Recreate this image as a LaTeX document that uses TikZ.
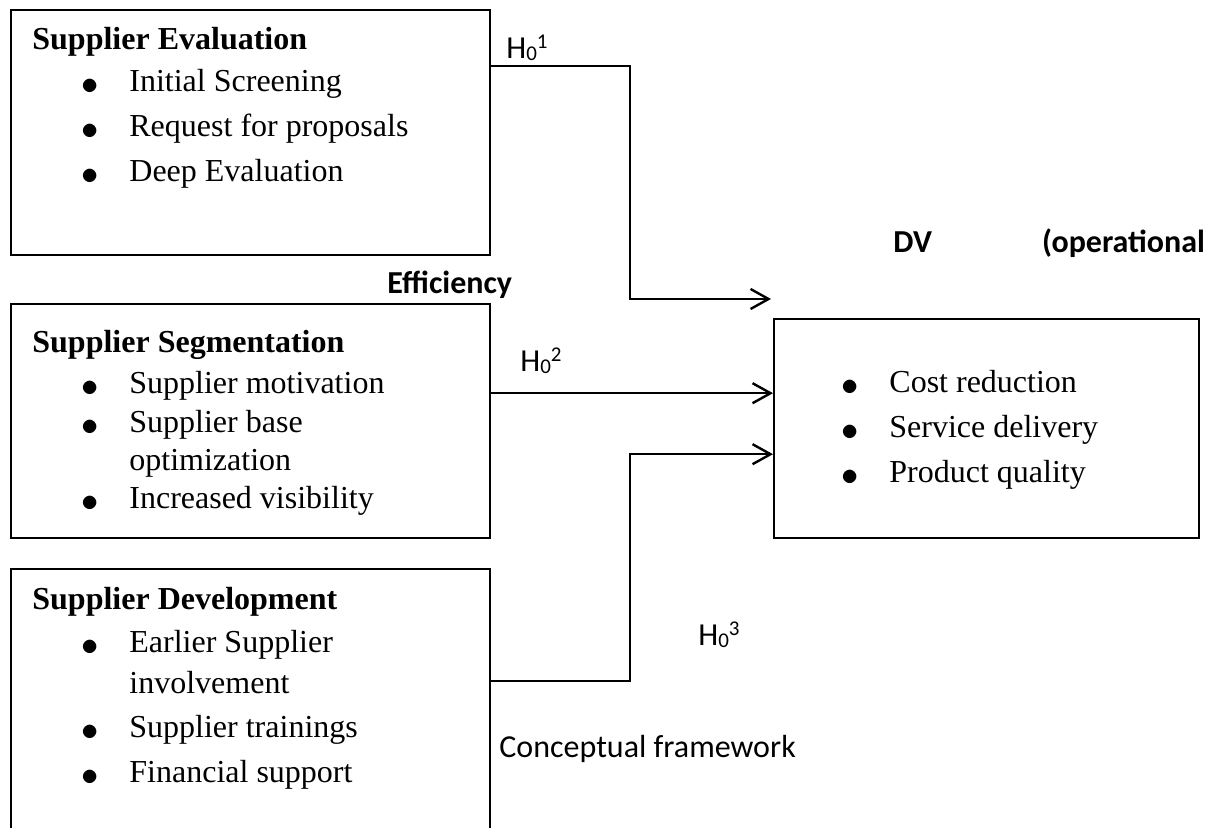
\documentclass[tikz,border=0pt]{standalone}
\usepackage{fontspec}
\setmainfont{Liberation Serif}
\newfontfamily\calibri{Carlito}
\usetikzlibrary{arrows.meta}
\newcommand{\hyp}[1]{H\raisebox{-1pt}{\fontsize{10.5}{12}\selectfont 0}\raisebox{5pt}{\fontsize{10.5}{12}\selectfont #1}}

\begin{document}
\begin{tikzpicture}
[x=0.5pt,y=-0.5pt,
box/.style={rectangle,draw=black,line width=1.2pt,anchor=north west,inner sep=0pt,minimum width=239.5pt},
txt/.style={anchor=base west,inner sep=0pt,font=\fontsize{16}{19}\selectfont},
head/.style={txt,font=\fontsize{16}{19}\selectfont\bfseries},
item/.style={txt,execute at begin node={\makebox[24pt][l]{\raisebox{-1.5pt}{$\bullet$}}}},
lab/.style={anchor=base west,inner sep=0pt,font=\fontsize{16}{19}\selectfont\calibri},
link/.style={line width=1.2pt,-{Straight Barb[length=9pt,width=10pt,line width=1.2pt]}}]
\path[use as bounding box] (0,0) rectangle (1213,828);
\clip (0,0) rectangle (1213,828);
% independent variables
\node[box,minimum height=122.5pt] (eval) at (10,9) {};
\node[box,minimum height=117pt] (seg) at (10,303) {};
\node[box,minimum height=200pt] (dev) at (10,568) {};
% dependent variable
\node[box,minimum width=212.5pt,minimum height=109.5pt] (dv) at (773,318) {};

\node[head] (evalh) at (32,50) {Supplier Evaluation};
\node[item] (eval1) at (81,92) {Initial Screening};
\node[item] (eval2) at (81,137) {Request for proposals};
\node[item] (eval3) at (81,182) {Deep Evaluation};

\node[head] (segh) at (32,352) {Supplier Segmentation};
\node[item] (seg1) at (81,393) {Supplier motivation};
\node[item] (seg2) at (81,432) {Supplier base};
\node[txt] (seg2b) at (129,470) {optimization};
\node[item] (seg3) at (81,508) {Increased visibility};

\node[head] (devh) at (32,609) {Supplier Development};
\node[item] (dev1) at (81,652) {Earlier Supplier};
\node[txt] (dev1b) at (129,693) {involvement};
\node[item] (dev2) at (81,737) {Supplier trainings};
\node[item] (dev3) at (81,782) {Financial support};

\node[item] (dv1) at (841,392) {Cost reduction};
\node[item] (dv2) at (841,437) {Service delivery};
\node[item] (dv3) at (841,482) {Product quality};

% labels
\node[lab] (h1) at (506,59) {\hyp{1}};
\node[lab] (h2) at (520,371) {\hyp{2}};
\node[lab] (h3) at (698,645) {\hyp{3}};
\node[lab,font=\fontsize{16}{19}\selectfont\calibri\bfseries] (dvlab) at (893,253) {DV\hspace{55pt}(operational};
\node[lab,font=\fontsize{16}{19}\selectfont\calibri\bfseries] (efflab) at (387,293) {Efficiency};
\node[lab] (cap) at (499,757) {Conceptual framework};

% hypotheses
\coordinate (mid) at (630,0);
\coordinate (tip1) at (771,299);
\coordinate (in3) at ([yshift=-12.75pt]dv.west);
\draw[link] ([yshift=-28.5pt]eval.north east) -| (mid |- tip1) -- (tip1);
\draw[link] ([yshift=14pt]seg.east) -- ([yshift=14pt]seg.east -| dv.west);
\draw[link] ([yshift=-56.5pt]dev.north east) -| (mid |- in3) -- (in3);
\end{tikzpicture}
\end{document}
